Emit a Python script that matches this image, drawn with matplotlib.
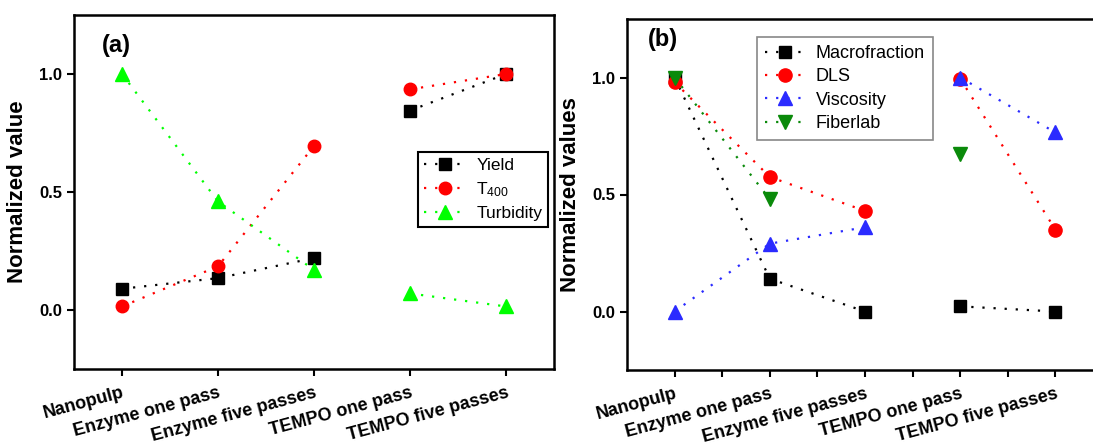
import numpy as np
import matplotlib
matplotlib.use("Agg")
from matplotlib import pyplot as plt

plt.rcParams['font.family'] = ['Liberation Sans', 'DejaVu Sans']
plt.rcParams['mathtext.default'] = 'regular'

categories = ['Nanopulp', 'Enzyme one pass', 'Enzyme five passes', 'TEMPO one pass', 'TEMPO five passes']

# panel (a)
yield_vals = [0.09, 0.135, 0.22, 0.845, 1.0]
t400_vals = [0.015, 0.185, 0.695, 0.935, 1.0]
turbidity_vals = [1.0, 0.46, 0.17, 0.07, 0.015]

# panel (b)
macro_vals = [1.0, 0.14, 0.0, 0.022, 0.0]
dls_vals = [0.98, 0.575, 0.43, 0.995, 0.35]
visc_vals = [0.0, 0.29, 0.36, 1.0, 0.765]
fiber_vals = [1.0, 0.48, np.nan, 0.675, np.nan]

# enzyme points and tempo points are joined separately
groups = [[0, 1, 2], [3, 4]]


def plot_series(ax, vals, color, marker, ms, label):
	vals = np.array(vals, dtype=float)
	first = True
	for g in groups:
		x = np.array(g)
		ax.plot(x, vals[g], color=color, marker=marker, markersize=ms,
				linestyle=(0, (1, 4)), linewidth=1.6,
				label=label if first else None)
		first = False


def style_axes(ax, ylabel, tag, tag_xy, minor):
	ax.set_xlim(-0.5, 4.5)
	ax.set_ylim(-0.25, 1.25)
	ax.set_xticks(range(len(categories)))
	ax.set_xticklabels(categories, rotation=15, ha='right', rotation_mode='anchor',
					   fontsize=13, fontweight='bold')
	if minor:
		ax.set_xticks([0.5, 1.5, 2.5, 3.5], minor=True)
		ax.tick_params(axis='x', which='minor', direction='out', length=5, width=1.5)
	ax.set_yticks([0.0, 0.5, 1.0])
	ax.set_yticklabels(['0.0', '0.5', '1.0'], fontsize=12, fontweight='bold')
	ax.tick_params(direction='out', length=5, width=1.5)
	ax.tick_params(axis='x', pad=6)
	for s in ax.spines.values():
		s.set_linewidth(1.8)
	ax.set_ylabel(ylabel, fontsize=16, fontweight='bold', labelpad=8)
	ax.text(tag_xy[0], tag_xy[1], tag, transform=ax.transAxes, fontsize=17,
			fontweight='bold', va='center', ha='left')


fig = plt.figure(figsize=(10.93, 4.46), dpi=100)

ax1 = fig.add_axes([74 / 1093, 77 / 446, 480 / 1093, 354 / 446])
plot_series(ax1, yield_vals, 'black', 's', 8, 'Yield')
plot_series(ax1, t400_vals, '#ff0000', 'o', 9, 'T$_{400}$')
plot_series(ax1, turbidity_vals, '#00ff00', '^', 10, 'Turbidity')
style_axes(ax1, 'Normalized value', '(a)', (0.058, 0.915), False)
leg1 = ax1.legend(loc='upper left', bbox_to_anchor=(418 / 1093, 1 - 152 / 446),
				  bbox_transform=fig.transFigure, borderaxespad=0, fontsize=12.5,
				  fancybox=False, edgecolor='black', framealpha=1,
				  handlelength=2.4, handletextpad=0.6, labelspacing=0.4,
				  borderpad=0.35)
leg1.get_frame().set_linewidth(1.5)

ax2 = fig.add_axes([627 / 1093, 76 / 446, 476 / 1093, 351 / 446])
plot_series(ax2, macro_vals, 'black', 's', 8, 'Macrofraction')
plot_series(ax2, dls_vals, '#ff0000', 'o', 9.5, 'DLS')
plot_series(ax2, visc_vals, '#2b2bff', '^', 10, 'Viscosity')
plot_series(ax2, fiber_vals, '#0a8a0a', 'v', 10, 'Fiberlab')
style_axes(ax2, 'Normalized values', '(b)', (0.044, 0.943), True)
leg2 = ax2.legend(loc='upper left', bbox_to_anchor=(757 / 1093, 1 - 37 / 446),
				  bbox_transform=fig.transFigure, borderaxespad=0, fontsize=13,
				  fancybox=False, edgecolor='#888888', framealpha=1,
				  handlelength=2.2, handletextpad=0.6, labelspacing=0.35,
				  borderpad=0.45)
leg2.get_frame().set_linewidth(1.2)

fig.savefig('out.png', dpi=100)
